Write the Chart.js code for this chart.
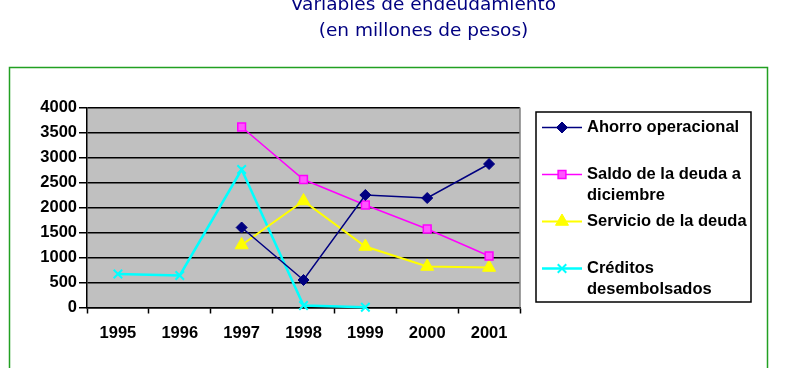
<!DOCTYPE html>
<html>
<head>
<meta charset="utf-8">
<script src="https://cdn.jsdelivr.net/npm/chart.js@4/dist/chart.umd.min.js"></script>
<style>
    body { margin: 0; background: #ffffff; }
    canvas { display: block; }
</style>
</head>
<body>
<canvas id="chart" width="796" height="368"></canvas>
<script>
// Texts
const TITLE_LINES = ["Variables de endeudamiento", "(en millones de pesos)"];
const SERIES_NAMES = ["Ahorro operacional", "Saldo de la deuda a diciembre", "Servicio de la deuda", "Créditos desembolsados"];

// Data (millones de pesos)
const YEARS     = ["1995", "1996", "1997", "1998", "1999", "2000", "2001"];
const AHORRO    = [null, null, 1600, 550, 2250, 2190, 2870];
const SALDO     = [null, null, 3610, 2560, 2050, 1570, 1030];
const SERVICIO  = [null, null, 1250, 2130, 1220, 820, 800];
const CREDITOS  = [670, 640, 2760, 40, 5, null, null];

// Colors
const COLOR_AHORRO   = "#000080";
const COLOR_SALDO    = "#ff00ff";
const COLOR_SERVICIO = "#ffff00";
const COLOR_CREDITOS = "#00ffff";
const COLOR_PLOT_BG  = "#c0c0c0";
const COLOR_FRAME    = "#22a022";
const COLOR_TITLE    = "#000080";

const FONT_FAMILY = "'Liberation Sans', Arial, sans-serif";
const BOLD_FONT = "bold 16.5px " + FONT_FAMILY;

// Draws the outer frame, plot background, title and the boxed legend
const decorPlugin = {
    id: "decor",
    beforeDraw(chart) {
        const ctx = chart.ctx;
        const a = chart.chartArea;
        ctx.save();
        ctx.fillStyle = "#ffffff";
        ctx.fillRect(0, 0, chart.width, chart.height);
        ctx.strokeStyle = COLOR_FRAME;
        ctx.lineWidth = 1.5;
        ctx.strokeRect(9.5, 67.5, 758, 400);
        ctx.fillStyle = COLOR_PLOT_BG;
        ctx.fillRect(a.left, a.top, a.right - a.left, a.bottom - a.top);
        ctx.restore();
    },
    afterDraw(chart) {
        const ctx = chart.ctx;
        const a = chart.chartArea;
        ctx.save();

        // right edge of plot
        ctx.strokeStyle = "#808080";
        ctx.lineWidth = 1.5;
        ctx.beginPath();
        ctx.moveTo(a.right, a.top);
        ctx.lineTo(a.right, a.bottom);
        ctx.stroke();

        // title
        ctx.fillStyle = COLOR_TITLE;
        ctx.font = "18.5px 'DejaVu Sans', sans-serif";
        ctx.textAlign = "center";
        ctx.textBaseline = "alphabetic";
        TITLE_LINES.forEach((t, i) => ctx.fillText(t, 423.5, 10 + i * 26));

        // legend box
        const lx = 536, ly = 112, lw = 215, lh = 190;
        ctx.fillStyle = "#ffffff";
        ctx.fillRect(lx, ly, lw, lh);
        ctx.strokeStyle = "#000000";
        ctx.lineWidth = 1.5;
        ctx.strokeRect(lx, ly, lw, lh);

        ctx.font = BOLD_FONT;
        ctx.textAlign = "left";
        ctx.textBaseline = "middle";
        chart.data.datasets.forEach((ds, i) => {
            const y = ly + 15.5 + i * 47;
            ctx.strokeStyle = ds.borderColor;
            ctx.lineWidth = ds.borderWidth;
            ctx.beginPath();
            ctx.moveTo(lx + 6, y);
            ctx.lineTo(lx + 46, y);
            ctx.stroke();
            ctx.fillStyle = ds.pointBackgroundColor;
            ctx.strokeStyle = ds.pointBorderColor;
            ctx.lineWidth = ds.pointBorderWidth;
            Chart.helpers.drawPoint(ctx, {
                pointStyle: ds.pointStyle,
                radius: ds.pointRadius,
                borderWidth: ds.pointBorderWidth,
                rotation: 0
            }, lx + 26, y);

            // wrap label text
            const words = ds.label.split(" ");
            const lines = [];
            let cur = "";
            words.forEach(w => {
                const test = cur ? cur + " " + w : w;
                if (ctx.measureText(test).width > 164 && cur) {
                    lines.push(cur);
                    cur = w;
                } else {
                    cur = test;
                }
            });
            lines.push(cur);
            ctx.fillStyle = "#000000";
            lines.forEach((t, k) => ctx.fillText(t, lx + 51, y + k * 21));
        });
        ctx.restore();
    }
};

function makeSeries(label, data, color, lineWidth, pointStyle, radius, fill, pointBorder) {
    return {
        label: label,
        data: data,
        borderColor: color,
        backgroundColor: color,
        borderWidth: lineWidth,
        pointStyle: pointStyle,
        pointRadius: radius,
        pointHoverRadius: radius,
        pointBackgroundColor: fill,
        pointBorderColor: color,
        pointBorderWidth: pointBorder,
        tension: 0,
        spanGaps: false,
        clip: false
    };
}

new Chart(document.getElementById("chart"), {
    type: "line",
    data: {
        labels: YEARS,
        datasets: [
            makeSeries(SERIES_NAMES[0], AHORRO, COLOR_AHORRO, 1.5, "rectRot", 5.5, COLOR_AHORRO, 1),
            makeSeries(SERIES_NAMES[1], SALDO, COLOR_SALDO, 1.5, "rect", 5.5, "#ff55ff", 1.5),
            makeSeries(SERIES_NAMES[2], SERVICIO, COLOR_SERVICIO, 2, "triangle", 7.5, COLOR_SERVICIO, 1),
            makeSeries(SERIES_NAMES[3], CREDITOS, COLOR_CREDITOS, 2.5, "crossRot", 6, COLOR_CREDITOS, 2)
        ]
    },
    options: {
        responsive: false,
        animation: false,
        devicePixelRatio: 1,
        layout: {
            padding: { left: 0, right: 276, top: 107.5, bottom: 0 }
        },
        plugins: {
            legend: { display: false },
            title: { display: false },
            tooltip: { enabled: false }
        },
        scales: {
            x: {
                offset: true,
                grid: {
                    offset: true,
                    drawOnChartArea: false,
                    drawTicks: true,
                    tickLength: 6,
                    tickColor: "#000000",
                    tickWidth: 1.5
                },
                border: { display: true, color: "#000000", width: 1.5 },
                ticks: {
                    color: "#000000",
                    padding: 10,
                    maxRotation: 0,
                    font: { family: FONT_FAMILY, size: 16.5, weight: "bold" }
                },
                afterFit: (scale) => { scale.height = 60.5; }
            },
            y: {
                min: 0,
                max: 4000,
                grid: {
                    color: "#000000",
                    lineWidth: 1.5,
                    drawTicks: true,
                    tickLength: 8,
                    tickColor: "#000000"
                },
                border: { display: true, color: "#000000", width: 1.5 },
                ticks: {
                    stepSize: 500,
                    color: "#000000",
                    padding: 2,
                    callback: (value) => String(value),
                    font: { family: FONT_FAMILY, size: 16.5, weight: "bold" }
                },
                afterFit: (scale) => { scale.width = 87; }
            }
        }
    },
    plugins: [decorPlugin]
});
</script>
</body>
</html>
